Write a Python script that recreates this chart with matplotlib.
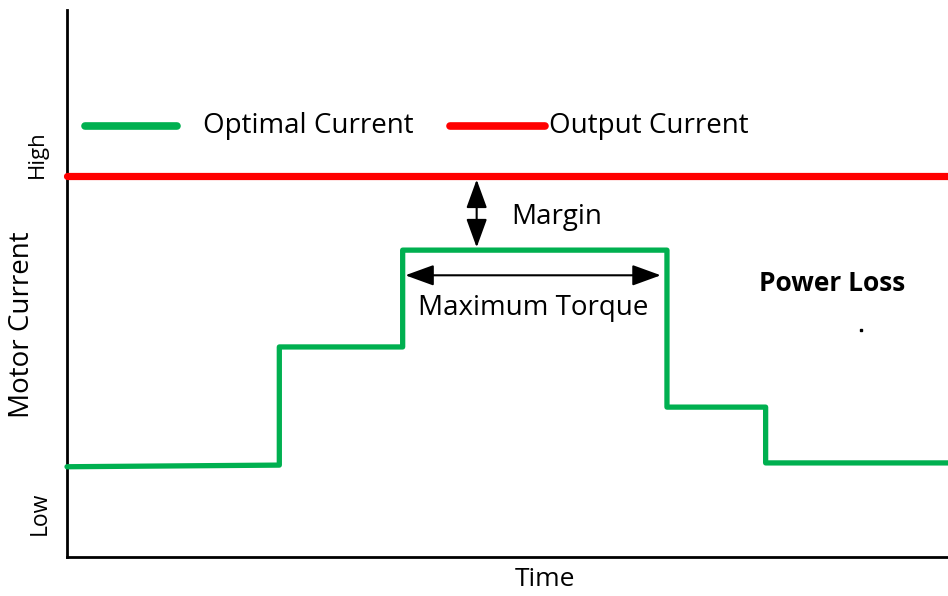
import matplotlib.pyplot as plt

plt.rcParams['font.family'] = ['Open Sans', 'DejaVu Sans']

# step profile of the optimal motor current over one cycle (percent of full scale)
time_pts = [0, 24.1, 24.1, 38.1, 38.1, 68.1, 68.1, 79.3, 79.3, 100]
optimal_current = [16.5, 16.8, 38.4, 38.4, 56.1, 56.1, 27.4, 27.4, 17.2, 17.2]
output_level = 69.7
peak_level = 56.1
margin_x = 46.5
torque_span = [38.1, 68.1]
torque_arrow_y = 51.5

GREEN = '#00B050'
RED = '#FF0000'
ARROW = dict(arrowstyle='<|-|>,head_length=0.55,head_width=0.2', color='black',
             lw=1.5, mutation_scale=32, shrinkA=0, shrinkB=0)

fig = plt.figure(figsize=(9.48, 5.96), dpi=100)
ax = fig.add_axes([67 / 948, 39 / 596, 881 / 948, 547 / 596])
ax.set_xlim(0, 100)
ax.set_ylim(0, 100)

ax.plot([0, 100], [output_level, output_level], color=RED, lw=5.2,
        solid_capstyle='round', clip_on=False, zorder=3)
ax.plot(time_pts, optimal_current, color=GREEN, lw=3.8,
        solid_capstyle='round', solid_joinstyle='round', clip_on=False, zorder=3)

# margin between output and peak current
ax.annotate('', xy=(margin_x, output_level - 0.7), xytext=(margin_x, peak_level + 0.5),
            arrowprops=ARROW)
ax.text(50.4, 62.2, 'Margin', fontsize=20, ha='left', va='center')

# maximum torque span
ax.annotate('', xy=(torque_span[0] + 0.3, torque_arrow_y), xytext=(torque_span[1] - 0.7, torque_arrow_y),
            arrowprops=ARROW)
ax.text(52.9, 45.5, 'Maximum Torque', fontsize=20, ha='center', va='center')

ax.text(86.9, 50.0, 'Power Loss', fontsize=19, fontweight='bold', ha='center', va='center')
ax.plot([90.1], [41.5], marker='s', ms=1.6, color='black', ls='none')

# legend drawn by hand so each entry keeps its own spacing
ax.plot([2.0, 12.5], [78.8, 78.8], color=GREEN, lw=5.5, solid_capstyle='round')
ax.text(15.4, 78.8, 'Optimal Current', fontsize=20, ha='left', va='center')
ax.plot([43.5, 54.3], [78.8, 78.8], color=RED, lw=5.5, solid_capstyle='round')
ax.text(54.7, 78.8, 'Output Current', fontsize=20, ha='left', va='center')

for side in ['top', 'right']:
    ax.spines[side].set_visible(False)
ax.spines['left'].set_linewidth(2)
ax.spines['bottom'].set_linewidth(2)
ax.set_xticks([])
ax.set_yticks([])

ax.text(-0.034, 73.7, 'High', rotation=90, fontsize=16, ha='center', va='center',
        transform=ax.get_yaxis_transform())
ax.text(-0.031, 8.0, 'Low', rotation=90, fontsize=16.5, ha='center', va='center',
        transform=ax.get_yaxis_transform())

ax.set_xlabel('Time', fontsize=19)
ax.xaxis.set_label_coords(0.543, -0.018)
ax.set_ylabel('Motor Current', fontsize=20)
ax.yaxis.set_label_coords(-0.035, 0.424)

fig.savefig('out.png', dpi=100)
